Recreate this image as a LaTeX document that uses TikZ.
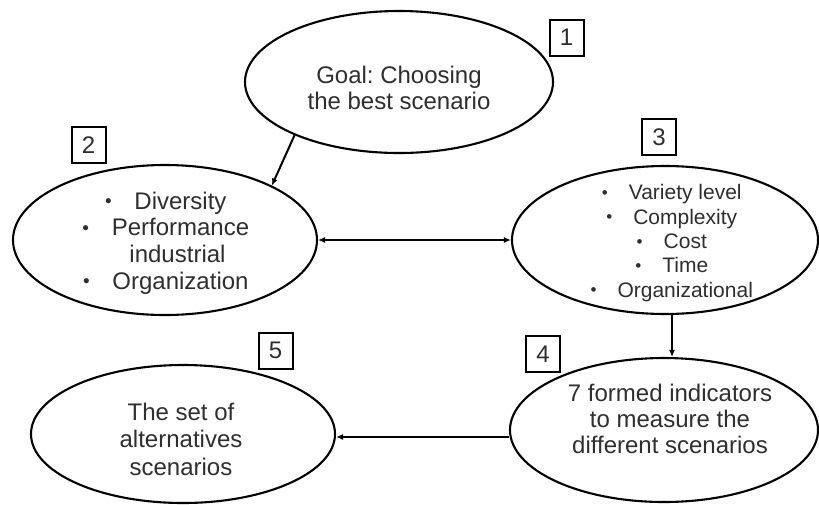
\documentclass[tikz,border=0pt]{standalone}
\usepackage{fontspec}
\setmainfont{Liberation Sans}
\usetikzlibrary{shapes.geometric,arrows.meta}
\definecolor{txt}{gray}{0.18}
\frenchspacing
\newcommand\bulA{\makebox[10pt]{\raisebox{1.5pt}{\fontsize{19}{19}\selectfont•}}\hspace{21pt}}
\newcommand\bulB{\makebox[9pt]{\raisebox{1.2pt}{\fontsize{17}{17}\selectfont•}}\hspace{19.5pt}}
\begin{document}
\begin{tikzpicture}[x=1pt,y=-1pt,
  ell/.style={draw=black,line width=2.1pt,ellipse,inner sep=0pt},
  txtbig/.style={align=center,text=txt,font=\fontsize{24}{26}\selectfont\frenchspacing,inner sep=0pt},
  txtsmall/.style={align=center,text=txt,font=\fontsize{21}{24.3}\selectfont,inner sep=0pt},
  numbox/.style={draw=black,line width=2pt,minimum width=34pt,minimum height=36pt,inner sep=0pt,text=txt,font=\fontsize{24}{26}\selectfont},
  arr/.style={line width=2pt,-{Latex[length=7pt,width=6pt]}},
  darr/.style={line width=2pt,{Latex[length=7pt,width=6pt]}-{Latex[length=7pt,width=6pt]}}
]
\useasboundingbox (0,0) rectangle (819,504);

% ellipses
\node[ell,minimum width=308pt,minimum height=142pt] (e1) at (399,82) {};
\node[ell,minimum width=304pt,minimum height=150pt] (e2) at (165,240) {};
\node[ell,minimum width=306pt,minimum height=148pt] (e3) at (665,240) {};
\node[ell,minimum width=308pt,minimum height=144pt] (e4) at (664,430) {};
\node[ell,minimum width=304pt,minimum height=138pt] (e5) at (183,434) {};

% texts
\node[txtbig] (t1) at (399,88) {Goal: Choosing\\the best scenario};
\node[txtbig,font=\fontsize{24}{26.7}\selectfont] (t2) at (165,243) {\bulA Diversity\\\bulA Performance\\\hspace*{25pt}industrial\\\bulA Organization};
\node[txtsmall] (t3) at (671,243) {\bulB Variety level\\\bulB Complexity\\\bulB Cost\\\bulB Time\\\bulB Organizational};
\node[txtbig] (t4) at (670,419) {7 formed indicators\\to measure the\\different scenarios};
\node[txtbig,font=\fontsize{24}{27.5}\selectfont] (t5) at (181,439) {The set of\\alternatives\\scenarios};

% number boxes
\node[numbox] (n1) at (566.5,37.5) {1};
\node[numbox] (n2) at (88.5,145) {2};
\node[numbox] (n3) at (659,137) {3};
\node[numbox] (n4) at (543,354) {4};
\node[numbox] (n5) at (275.5,350.5) {5};

% connectors
\draw[arr] (e1.207) -- (e2.27);
\draw[darr] (e2.east) -- (e3.west);
\draw[arr] ([xshift=7pt]e3.south) -- ([xshift=8pt]e4.north);
\draw[arr] ([yshift=-7pt]e4.west) -- ([yshift=-3pt]e5.east);
\end{tikzpicture}
\end{document}
